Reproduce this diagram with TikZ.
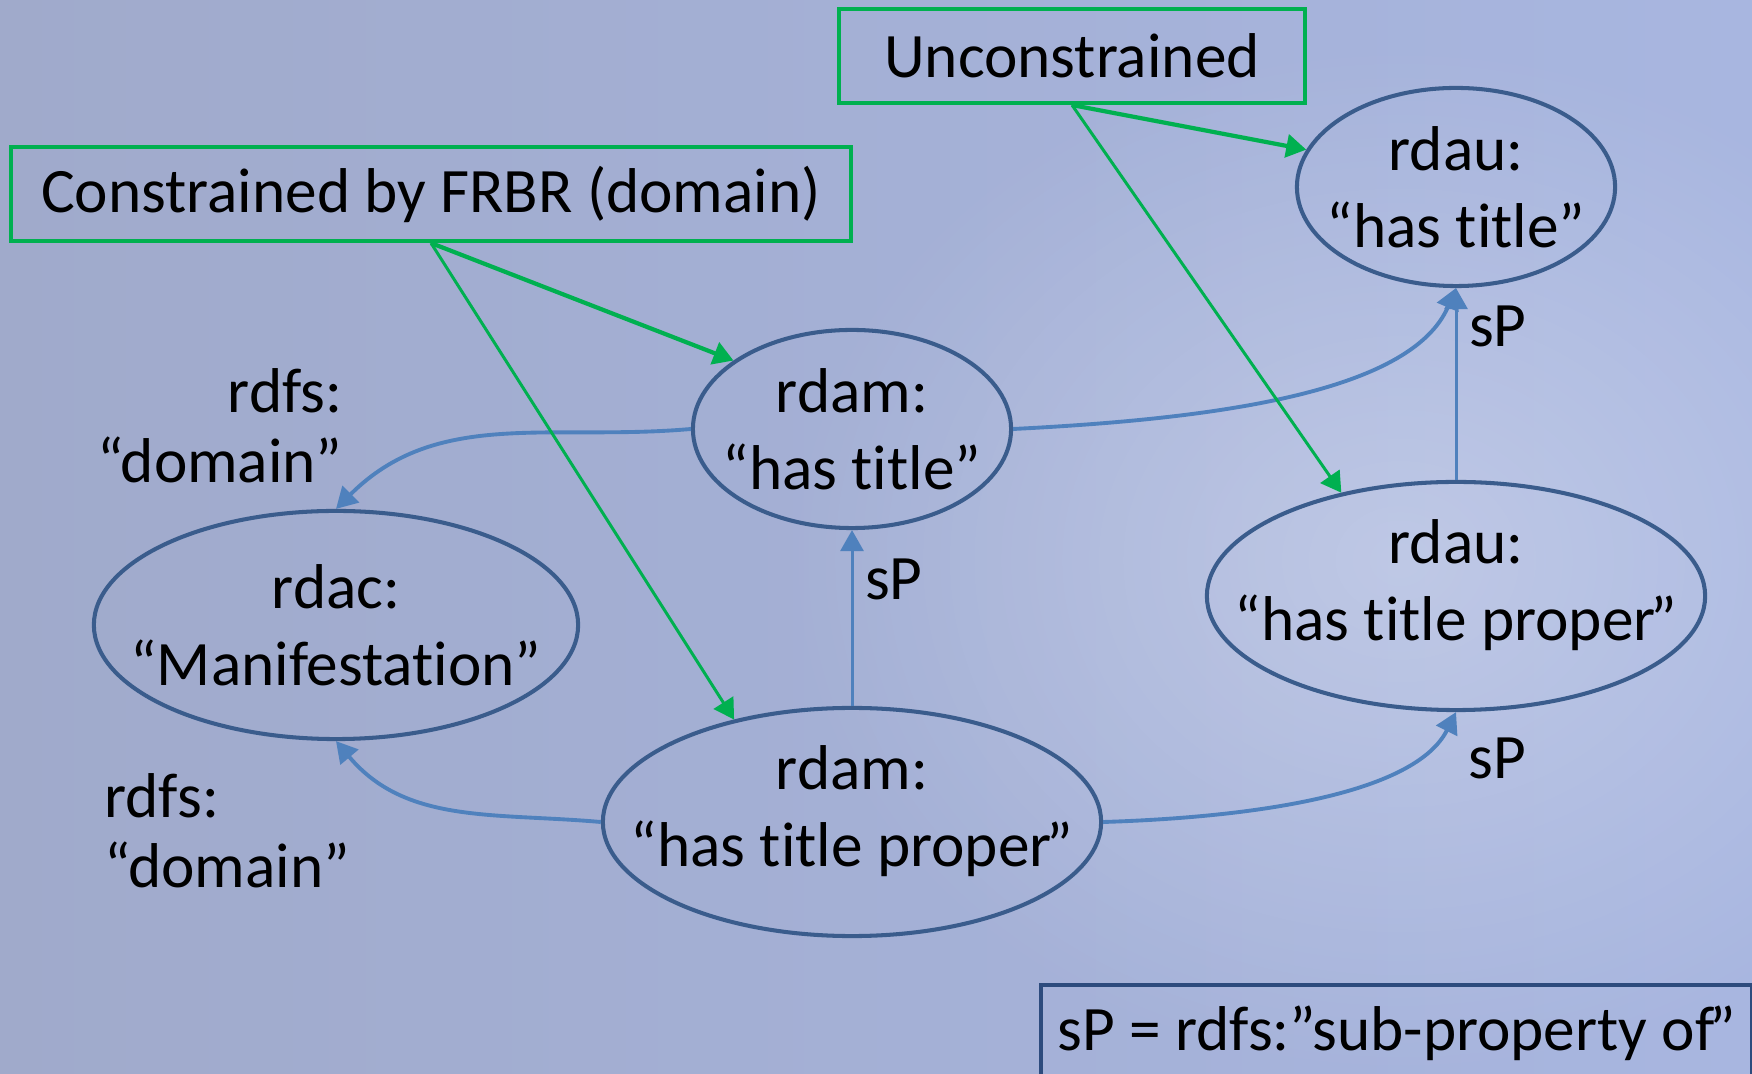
\documentclass[tikz,border=0pt]{standalone}
\usepackage{fontspec}
\setmainfont{Carlito}[Ligatures=NoCommon]
\usepackage{tikz}
\usetikzlibrary{shapes}
\usetikzlibrary{arrows.meta}
\usetikzlibrary{fadings}
\usetikzlibrary{positioning}

\definecolor{bgL}{RGB}{160,170,203}
\definecolor{bgR}{RGB}{168,182,224}
\definecolor{ringblue}{RGB}{58,92,140}
\definecolor{arrblue}{RGB}{79,129,189}
\definecolor{tagreen}{RGB}{0,176,80}
\definecolor{navy}{RGB}{45,75,125}

\tikzfading[name=glowfade, inner color=transparent!0, outer color=transparent!100]

\tikzset{
	prop/.style={ellipse, draw=ringblue, line width=1.15pt, align=center, inner xsep=-1cm, inner ysep=0pt,
		font=\fontsize{18}{22}\selectfont},
	tag/.style={draw=tagreen, line width=1.15pt, inner sep=0pt, font=\fontsize{18}{22}\selectfont},
	sub/.style={-{Triangle[length=0.21cm, width=0.23cm]}, draw=arrblue, line width=1.1pt},
	lab/.style={font=\fontsize{18}{20}\selectfont},
	cons/.style={-{Triangle[length=0.2cm, width=0.23cm]}, draw=tagreen, line width=1.2pt}
}

\begin{document}
\begin{tikzpicture}[x=0.01cm, y=0.01cm]
	
	\useasboundingbox (0,0) rectangle (1752,-1074);
	\clip (0,0) rectangle (1752,-1074);
	\shade [left color=bgL, right color=bgR] (0,0) rectangle (1752,-1074);
	\fill [white, opacity=0.28, path fading=glowfade] (1400,-560) ellipse (620 and 520);
	
	% boxes
	\node [tag, minimum width=8.4cm, minimum height=0.94cm] (boxC) at (431,-194) {Constrained by FRBR (domain)};
	\node [tag, minimum width=4.65cm, minimum height=0.94cm] (boxU) at (1072,-56) {Unconstrained};
	
	% properties
	\node [prop, minimum width=3.18cm, minimum height=1.98cm] (rdauT) at (1456,-187) {rdau:\\“has title”};
	\node [prop, minimum width=3.18cm, minimum height=1.98cm] (rdamT) at (852,-429) {rdam:\\“has title”};
	\node [prop, minimum width=4.84cm, minimum height=2.28cm] (manif) at (336,-625) {rdac:\\“Manifestation”};
	\node [prop, minimum width=4.98cm, minimum height=2.28cm, text depth=0.32cm] (rdamTP) at (852,-822) {rdam:\\“has title proper\kern-.08em”};
	\node [prop, minimum width=4.98cm, minimum height=2.28cm, text depth=0.32cm] (rdauTP) at (1456,-596) {rdau:\\“has title proper\kern-.08em”};
	
	% domain
	\draw [sub] (rdamT.west) to [out=185, in=45] (manif.north);
	\draw [sub] (rdamTP.west) to [out=175, in=-50] (manif.south);
	\node [lab, align=right, anchor=east] (dom1) at (355,-426) {rdfs:\\“domain”};
	\node [lab, align=left, anchor=west] (dom2) at (92,-831) {rdfs:\\“domain”};
	
	% sub-property
	\draw [sub, line width=0.85pt] (rdamTP.north) -- node [lab, right, pos=0.72] (sp1) {sP} (rdamT.south);
	\draw [sub, line width=0.85pt] (rdauTP.north) -- node [lab, right, pos=0.8] (sp2) {sP} (rdauT.south);
	\draw [sub] (rdamT.east) .. controls +(200,10) and +(-45,-105) .. (rdauT.south);
	\draw [sub] (rdamTP.east) .. controls +(160,5) and +(-40,-80) .. (rdauTP.south);
	\node [lab] (sp3) at (1497,-758) {sP};
	
	\draw [cons] (boxC.south) -- (rdamT.150);
	\draw [cons, line width=0.85pt] (boxC.south) -- (rdamTP.139);
	\draw [cons] (boxU.south) -- (rdauT.166);
	\draw [cons, line width=0.85pt] (boxU.south) -- (rdauTP.138);
	
	\node [draw=navy, line width=1.15pt, anchor=north west, minimum width=7.11cm, minimum height=0.96cm,
		font=\fontsize{18}{22}\selectfont] (legend) at (1039,-983) {sP = rdfs:”sub-property of\kern-.08em”};
	
\end{tikzpicture}
\end{document}
